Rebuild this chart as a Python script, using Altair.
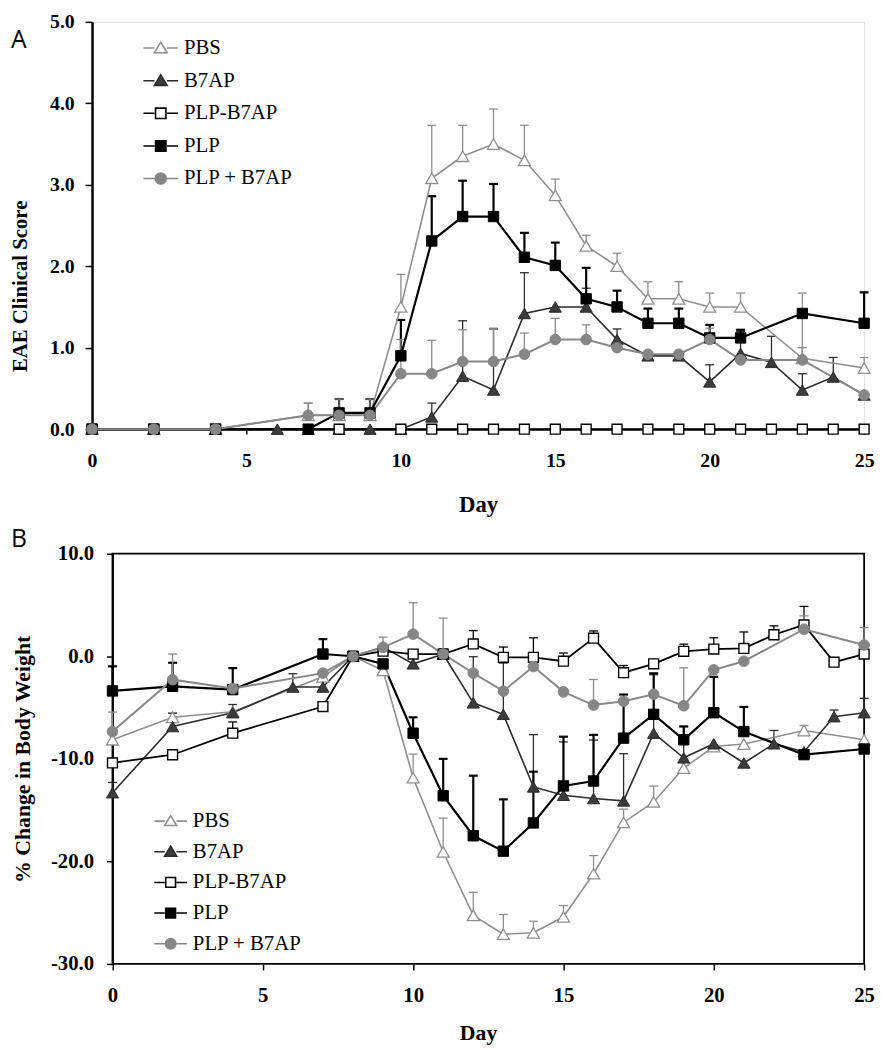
import altair as alt
import pandas as pd

SERIF = "Liberation Serif"
SANS = "Open Sans"
SERIES = ["PBS", "B7AP", "PLP-B7AP", "PLP", "PLP + B7AP"]
PANEL_LABELS = ["A", "B"]

# ---------------- Panel A: EAE clinical score ----------------
A_PBS_DAY = [0, 2, 4, 7, 8, 9, 10, 11, 12, 13, 14, 15, 16, 17, 18, 19, 20, 21, 23, 25]
A_PBS = [0, 0, 0, 0.17, 0.17, 0.17, 1.5, 3.08, 3.35, 3.5, 3.3, 2.87, 2.25, 2.0, 1.6, 1.6, 1.5, 1.5, 0.87, 0.75]
A_PBS_ERR = [None, None, None, 0.15, 0.2, 0.2, 0.4, 0.65, 0.38, 0.43, 0.43, 0.2, 0.13, 0.16, 0.21, 0.21, 0.17, 0.17, 0.8, 0.13]

A_B7AP_DAY = [0, 2, 4, 6, 7, 8, 9, 10, 11, 12, 13, 14, 15, 16, 17, 18, 19, 20, 21, 22, 23, 24, 25]
A_B7AP = [0, 0, 0, 0, 0, 0, 0, 0, 0.15, 0.65, 0.48, 1.42, 1.5, 1.5, 1.1, 0.9, 0.9, 0.58, 0.93, 0.82, 0.48, 0.64, 0.42]
A_B7AP_ERR = [None, None, None, None, None, None, None, None, 0.17, 0.68, 0.75, 0.5, None, 0.23, 0.13, None, None, 0.21, 0.27, 0.32, 0.2, 0.24, None]

A_PLPB7AP_DAY = [0, 2, 4, 8, 10, 11, 12, 13, 14, 15, 16, 17, 18, 19, 20, 21, 22, 23, 24, 25]
A_PLPB7AP = [0, 0, 0, 0, 0, 0, 0, 0, 0, 0, 0, 0, 0, 0, 0, 0, 0, 0, 0, 0]
A_PLPB7AP_ERR = [None] * 20

A_PLP_DAY = [0, 2, 4, 7, 8, 9, 10, 11, 12, 13, 14, 15, 16, 17, 18, 19, 20, 21, 23, 25]
A_PLP = [0, 0, 0, 0, 0.2, 0.2, 0.9, 2.31, 2.61, 2.61, 2.11, 2.01, 1.6, 1.5, 1.3, 1.3, 1.12, 1.12, 1.42, 1.3]
A_PLP_ERR = [None, None, None, None, 0.17, 0.17, 0.44, 0.55, 0.44, 0.4, 0.3, 0.28, 0.38, 0.2, 0.18, 0.18, 0.16, 0.1, None, 0.38]

A_MIX_DAY = [0, 2, 4, 7, 8, 9, 10, 11, 12, 13, 14, 15, 16, 17, 18, 19, 20, 21, 23, 25]
A_MIX = [0, 0, 0, 0.17, 0.17, 0.17, 0.68, 0.68, 0.83, 0.83, 0.92, 1.1, 1.1, 1.0, 0.92, 0.92, 1.1, 0.85, 0.85, 0.42]
A_MIX_ERR = [None, None, None, 0.15, 0.2, 0.2, 0.42, 0.41, 0.39, 0.41, 0.26, 0.26, 0.18, None, None, None, 0.14, None, 0.15, None]

A_XTICKS = [0, 5, 10, 15, 20, 25]
A_YTICKS = [0, 1, 2, 3, 4, 5]
A_XDOMAIN = [0, 25]
A_YDOMAIN = [0, 5]

# ---------------- Panel B: % change in body weight ----------------
B_PBS_DAY = [0, 2, 4, 7, 8, 9, 10, 11, 12, 13, 14, 15, 16, 17, 18, 19, 20, 21, 23, 25]
B_PBS = [-8.14, -5.95, -5.4, -2.0, 0, -1.38, -11.84, -19.08, -25.26, -27.1, -26.96, -25.4, -21.2, -16.2, -14.2, -10.9, -8.8, -8.56, -7.24, -8.14]
B_PBS_ERR = [None, 0.4, None, None, None, None, 2.3, 3.3, 2.25, 1.93, 1.13, 1.1, 1.77, 1.3, 1.54, None, None, None, 0.5, None]

B_B7AP_DAY = [0, 2, 4, 6, 7, 8, 9, 10, 11, 12, 13, 14, 15, 16, 17, 18, 19, 20, 21, 22, 23, 24, 25]
B_B7AP = [-13.3, -6.85, -5.5, -3.0, -3.0, 0, 0.9, -0.74, 0.2, -4.54, -5.66, -12.74, -13.55, -13.87, -14.1, -7.5, -9.9, -8.53, -10.4, -8.53, -9.3, -5.89, -5.5]
B_B7AP_ERR = [1.0, 1.3, 0.8, 1.3, None, None, None, None, None, 4.5, 5.0, 5.1, 5.2, 5.7, 4.6, 5.7, 3.05, None, None, 1.3, None, 0.65, 1.4]

B_PLPB7AP_DAY = [0, 2, 4, 7, 8, 9, 10, 11, 12, 13, 14, 15, 16, 17, 18, 19, 20, 21, 22, 23, 24, 25]
B_PLPB7AP = [-10.4, -9.6, -7.5, -4.9, 0, 0.5, 0.22, 0.22, 1.2, -0.1, -0.1, -0.48, 1.77, -1.6, -0.74, 0.48, 0.7, 0.77, 2.1, 3.06, -0.58, 0.22]
B_PLPB7AP_ERR = [None, None, 1.1, None, None, None, 0.3, 0.5, 1.3, 1.0, 1.9, 0.8, 0.7, 0.7, None, 0.7, 1.1, 1.6, 0.87, 1.8, None, None]

B_PLP_DAY = [0, 2, 4, 7, 8, 9, 10, 11, 12, 13, 14, 15, 16, 17, 18, 19, 20, 21, 23, 25]
B_PLP = [-3.38, -2.93, -3.25, 0.22, 0, -0.74, -7.5, -13.6, -17.5, -19.0, -16.25, -12.64, -12.16, -7.98, -5.66, -8.14, -5.5, -7.34, -9.59, -9.04]
B_PLP_ERR = [2.4, 2.3, 2.1, 1.45, None, None, 1.55, 3.6, 5.86, 5.05, 5.0, 4.8, 4.5, 4.25, 4.0, 1.3, 3.5, 2.4, None, None]

B_MIX_DAY = [0, 2, 4, 7, 8, 9, 10, 11, 12, 13, 14, 15, 16, 17, 18, 19, 20, 21, 23, 25]
B_MIX = [-7.34, -2.28, -3.15, -1.64, 0, 0.87, 2.16, 0.22, -1.64, -3.4, -1.0, -3.47, -4.76, -4.38, -3.7, -4.83, -1.32, -0.48, 2.64, 1.1]
B_MIX_ERR = [1.9, 2.5, None, None, None, 1.0, 3.06, 3.5, None, None, None, None, 2.5, None, None, 3.7, None, None, 1.3, 1.7]

B_XTICKS = [0, 5, 10, 15, 20, 25]
B_YTICKS = [-30, -20, -10, 0, 10]
B_XDOMAIN = [-0.68, 25]   # small lead-in so the y axis sits inside the view
B_YDOMAIN = [-30, 10]
B_FRAME_X = [0, 25]
B_FRAME_Y = [10, -30]

# ---------------- styles ----------------
STYLE = {
    "PBS":        dict(lc="#8e8e8e", lw=1.6, shape="triangle-up", fill="white",   stroke="#8e8e8e", sw=1.3, size=150, ec="#8e8e8e", ew=1.3),
    "B7AP":       dict(lc="#2b2b2b", lw=1.6, shape="triangle-up", fill="#3b3b3b", stroke="#2b2b2b", sw=1.0, size=150, ec="#2b2b2b", ew=1.3),
    "PLP-B7AP":   dict(lc="#000000", lw=1.8, shape="square",      fill="white",   stroke="#000000", sw=1.4, size=100, ec="#000000", ew=1.3),
    "PLP":        dict(lc="#000000", lw=2.2, shape="square",      fill="#000000", stroke="#000000", sw=1.0, size=110, ec="#000000", ew=2.2),
    "PLP + B7AP": dict(lc="#888888", lw=2.0, shape="circle",      fill="#868686", stroke="#868686", sw=1.0, size=115, ec="#8a8a8a", ew=1.3),
}
DRAW_ORDER = ["PBS", "B7AP", "PLP", "PLP-B7AP", "PLP + B7AP"]

LINE_PART = "M-1,0L-0.36,0M0.36,0L1,0"
LEGEND_PATHS = [
    LINE_PART + "M0,-0.34L0.37,0.27L-0.37,0.27Z",
    LINE_PART + "M0,-0.34L0.37,0.27L-0.37,0.27Z",
    LINE_PART + "M-0.3,-0.3L0.3,-0.3L0.3,0.3L-0.3,0.3Z",
    LINE_PART + "M-0.3,-0.3L0.3,-0.3L0.3,0.3L-0.3,0.3Z",
    LINE_PART + "M-0.32,0A0.32,0.32,0,1,1,0.32,0A0.32,0.32,0,1,1,-0.32,0Z",
]
LEGEND_FILLS = [STYLE[s]["fill"] for s in SERIES]
LEGEND_STROKES = [STYLE[s]["lc"] for s in SERIES]


def build_table(groups):
    rows = []
    for name, days, vals, errs in groups:
        for d, v, e in zip(days, vals, errs):
            rows.append({"series": name, "day": d, "value": v,
                         "upper": (v + e) if e is not None else None})
    return pd.DataFrame(rows)


dfA = build_table([
    ("PBS", A_PBS_DAY, A_PBS, A_PBS_ERR),
    ("B7AP", A_B7AP_DAY, A_B7AP, A_B7AP_ERR),
    ("PLP-B7AP", A_PLPB7AP_DAY, A_PLPB7AP, A_PLPB7AP_ERR),
    ("PLP", A_PLP_DAY, A_PLP, A_PLP_ERR),
    ("PLP + B7AP", A_MIX_DAY, A_MIX, A_MIX_ERR),
])
dfB = build_table([
    ("PBS", B_PBS_DAY, B_PBS, B_PBS_ERR),
    ("B7AP", B_B7AP_DAY, B_B7AP, B_B7AP_ERR),
    ("PLP-B7AP", B_PLPB7AP_DAY, B_PLPB7AP, B_PLPB7AP_ERR),
    ("PLP", B_PLP_DAY, B_PLP, B_PLP_ERR),
    ("PLP + B7AP", B_MIX_DAY, B_MIX, B_MIX_ERR),
])


def series_layers(df, X, Y, YU, cap):
    base = alt.Chart(df)
    errs, lines, pts = [], [], []
    for s in DRAW_ORDER:
        st = STYLE[s]
        sub = base.transform_filter(alt.datum.series == s)
        e = sub.transform_filter("isValid(datum.upper)")
        errs.append(e.mark_rule(color=st["ec"], strokeWidth=st["ew"]).encode(
            x=X, y=Y, y2=alt.Y2("upper:Q")))
        errs.append(e.mark_tick(orient="horizontal", color=st["ec"], thickness=st["ew"],
                                size=cap, opacity=1).encode(x=X, y=YU))
        lines.append(sub.mark_line(color=st["lc"], strokeWidth=st["lw"]).encode(x=X, y=Y))
        pts.append(sub.mark_point(shape=st["shape"], filled=True, fill=st["fill"],
                                  stroke=st["stroke"], strokeWidth=st["sw"],
                                  size=st["size"], opacity=1).encode(x=X, y=Y))
    return errs + lines + pts


def legend_layer(df, lx, ly, sym, rowpad):
    leg = alt.Legend(orient="none", legendX=lx, legendY=ly, title=None,
                     symbolSize=sym, symbolStrokeWidth=1.6,
                     labelFont=SERIF, labelFontSize=21, labelColor="black",
                     labelOffset=5, rowPadding=rowpad, padding=0, symbolLimit=10)
    return alt.Chart(df).transform_filter("false").mark_point(opacity=1, filled=True).encode(
        shape=alt.Shape("series:N", scale=alt.Scale(domain=SERIES, range=LEGEND_PATHS), legend=leg),
        fill=alt.Fill("series:N", scale=alt.Scale(domain=SERIES, range=LEGEND_FILLS), legend=leg),
        stroke=alt.Stroke("series:N", scale=alt.Scale(domain=SERIES, range=LEGEND_STROKES), legend=leg),
    )


def panel_letter(letter, dx, dy):
    return alt.Chart(pd.DataFrame({"panel": [letter]})).mark_text(
        font=SANS, fontSize=25, align="left", baseline="top", color="black"
    ).encode(text="panel:N", x=alt.value(dx), y=alt.value(dy))


# ---------------- Panel A ----------------
A_W, A_H = 781, 412
xA_scale = alt.Scale(domain=A_XDOMAIN, nice=False, zero=False)
yA_scale = alt.Scale(domain=A_YDOMAIN, nice=False)
xA_axis = alt.Axis(values=A_XTICKS, format="d", grid=False, labelFlush=False,
                   domainColor="black", domainWidth=2, tickColor="black", tickWidth=1.5, tickSize=5,
                   labelFont=SERIF, labelFontSize=20, labelFontWeight="bold", labelColor="black",
                   labelPadding=17, titleFont=SERIF, titleFontSize=23, titleFontWeight="bold",
                   titleColor="black", titlePadding=23)
yA_axis = alt.Axis(values=A_YTICKS, format=".1f", grid=False,
                   domainColor="black", domainWidth=2.5, tickColor="black", tickWidth=1.5, tickSize=7,
                   labelFont=SERIF, labelFontSize=20, labelFontWeight="bold", labelColor="black",
                   labelPadding=11, titleFont=SERIF, titleFontSize=21, titleFontWeight="bold",
                   titleColor="black", titleX=-66, titleY=267, titleBaseline="alphabetic",
                   titleAlign="center", titleAngle=270)
XA = alt.X("day:Q", scale=xA_scale, axis=xA_axis, title="Day")
YA = alt.Y("value:Q", scale=yA_scale, axis=yA_axis, title="EAE Clinical Score")
YAU = alt.Y("upper:Q", scale=yA_scale, axis=yA_axis, title="EAE Clinical Score")

panelA = alt.layer(
    *series_layers(dfA, XA, YA, YAU, 9),
    legend_layer(dfA, 51, 8, 1225, 4),
    panel_letter(PANEL_LABELS[0], -82, 6),
).properties(width=A_W, height=A_H)

# ---------------- Panel B ----------------
B_W, B_H = 781, 415
xB_scale = alt.Scale(domain=B_XDOMAIN, nice=False, zero=False)
yB_scale = alt.Scale(domain=B_YDOMAIN, nice=False)
B_YOFF = -B_W * (0 - B_XDOMAIN[0]) / (B_XDOMAIN[1] - B_XDOMAIN[0])
xB_axis = alt.Axis(values=B_XTICKS, format="d", grid=False, labelFlush=False, domain=False,
                   tickColor="black", tickWidth=1.5, tickSize=6,
                   labelFont=SERIF, labelFontSize=21, labelFontWeight="bold", labelColor="black",
                   labelPadding=15, titleFont=SERIF, titleFontSize=22, titleFontWeight="bold",
                   titleColor="black", titlePadding=17)
yB_axis = alt.Axis(values=B_YTICKS, grid=False, offset=B_YOFF,
                   labelExpr="(datum.value < 0 ? '-' : '') + format(abs(datum.value), '.1f')",
                   domainColor="black", domainWidth=2, tickColor="black", tickWidth=1.5, tickSize=6,
                   labelFont=SERIF, labelFontSize=21, labelFontWeight="bold", labelColor="black",
                   labelPadding=13, titleFont=SERIF, titleFontSize=22, titleFontWeight="bold",
                   titleColor="black", titleX=-84, titleY=B_H / 2, titleBaseline="alphabetic",
                   titleAlign="center", titleAngle=270)
XB = alt.X("day:Q", scale=xB_scale, axis=xB_axis, title="Day")
YB = alt.Y("value:Q", scale=yB_scale, axis=yB_axis, title="% Change in Body Weight")
YBU = alt.Y("upper:Q", scale=yB_scale, axis=yB_axis, title="% Change in Body Weight")

frameB = alt.Chart(dfB).transform_aggregate(n="count()").mark_rect(
    filled=False, stroke="black", strokeWidth=1.8).encode(
    x=alt.X(datum=B_FRAME_X[0], scale=xB_scale, axis=xB_axis, title="Day"),
    x2=alt.X2(datum=B_FRAME_X[1]),
    y=alt.Y(datum=B_FRAME_Y[0], scale=yB_scale, axis=yB_axis, title="% Change in Body Weight"),
    y2=alt.Y2(datum=B_FRAME_Y[1]),
)

panelB = alt.layer(
    frameB,
    *series_layers(dfB, XB, YB, YBU, 9),
    legend_layer(dfB, 62, 253, 1089, 3),
    panel_letter(PANEL_LABELS[1], -82, -27),
).properties(
    width=B_W, height=B_H,
    view=alt.ViewBackground(stroke="transparent"),
)

chart = alt.vconcat(panelA, panelB, spacing=9).resolve_scale(
    shape="independent", fill="independent", stroke="independent"
).resolve_legend(
    shape="independent", fill="independent", stroke="independent"
).properties(
    padding={"left": 1, "top": -3, "right": 0, "bottom": 0},
).configure_view(stroke="black", strokeWidth=1.5).configure(background="white")

chart.save("out.html", embed_options={"renderer": "svg", "actions": False})
